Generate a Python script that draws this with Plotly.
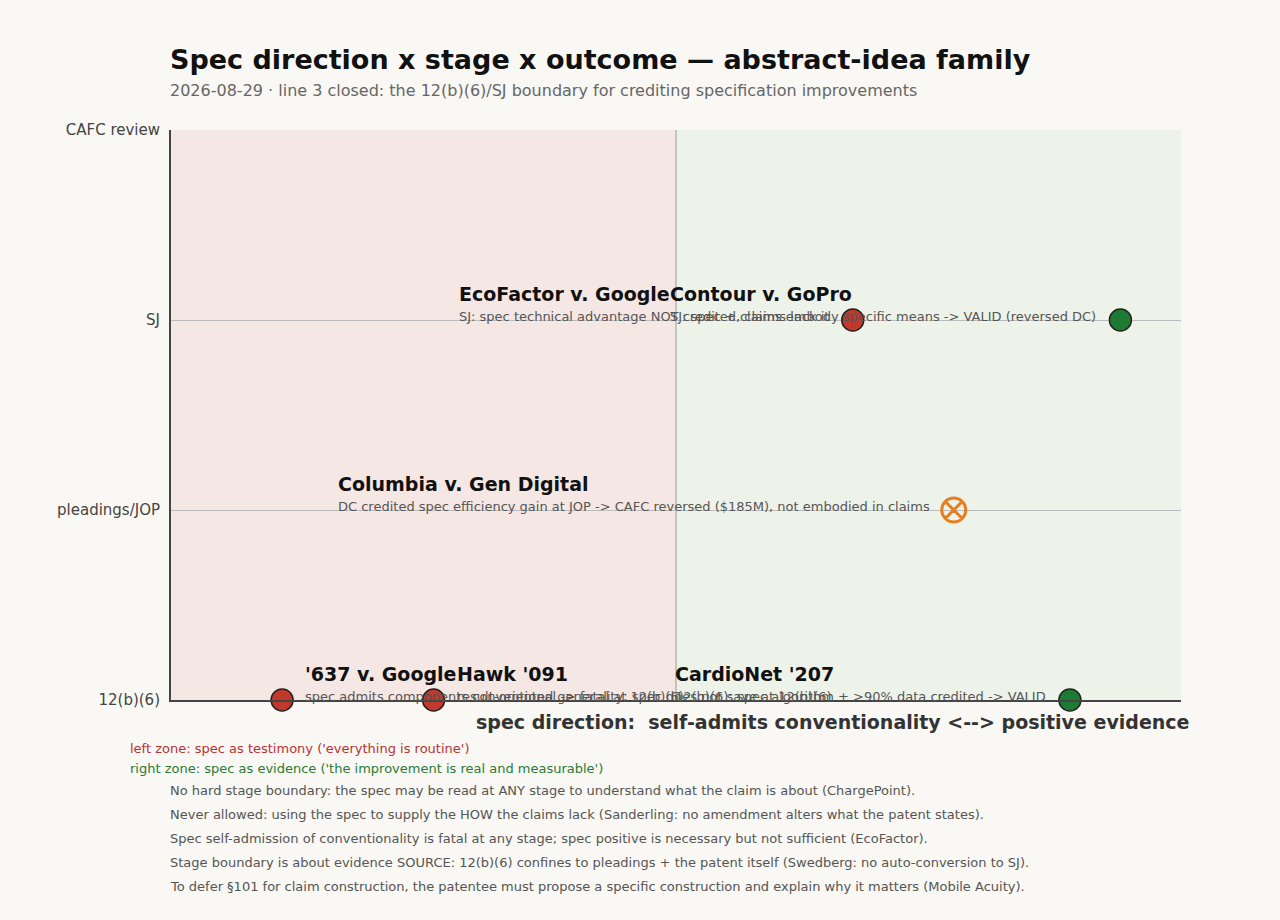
import plotly.graph_objects as go

# ---- data ----
stage_labels = ["12(b)(6)", "pleadings/JOP", "SJ", "CAFC review"]
stage_vals = [0, 1, 2, 3]

case_names = ["'637 v. Google", "Hawk '091", "CardioNet '207",
              "Columbia v. Gen Digital", "EcoFactor v. Google", "Contour v. GoPro"]
case_notes = [
    "spec admits components conventional -> fatal at 12(b)(6)",
    "result-oriented generality; spec does not save at 12(b)(6)",
    "12(b)(6): spec algorithm + >90% data credited -> VALID",
    "DC credited spec efficiency gain at JOP -> CAFC reversed ($185M), not embodied in claims",
    "SJ: spec technical advantage NOT credited, claims lack it",
    "SJ: spec + claims embody specific means -> VALID (reversed DC)",
]
direction = [-0.78, -0.48, 0.78, 0.55, 0.35, 0.88]
stage = [0, 0, 0, 1, 2, 2]
outcome = ["invalid", "invalid", "valid", "reversed", "invalid", "valid"]

zone_notes = [
    "left zone: spec as testimony ('everything is routine')",
    "right zone: spec as evidence ('the improvement is real and measurable')",
]
notes = [
    "No hard stage boundary: the spec may be read at ANY stage to understand what the claim is about (ChargePoint).",
    "Never allowed: using the spec to supply the HOW the claims lack (Sanderling: no amendment alters what the patent states).",
    "Spec self-admission of conventionality is fatal at any stage; spec positive is necessary but not sufficient (EcoFactor).",
    "Stage boundary is about evidence SOURCE: 12(b)(6) confines to pleadings + the patent itself (Swedberg: no auto-conversion to SJ).",
    "To defer \u00a7101 for claim construction, the patentee must propose a specific construction and explain why it matters (Mobile Acuity).",
]

FONT = "DejaVu Sans"
RED = "#c0392b"
GREEN = "#1e7b34"
ORANGE = "#e67e22"

fig = go.Figure()

style = {
    "invalid": dict(symbol="circle", color=RED, size=22, line=dict(color="#222", width=1.5)),
    "valid": dict(symbol="circle", color=GREEN, size=22, line=dict(color="#222", width=1.5)),
    "reversed": dict(symbol="circle-x-open", color=ORANGE, size=24, line=dict(color=ORANGE, width=3)),
}
for kind in ["invalid", "valid", "reversed"]:
    xs = [d for d, o in zip(direction, outcome) if o == kind]
    ys = [s for s, o in zip(stage, outcome) if o == kind]
    fig.add_trace(go.Scatter(x=xs, y=ys, mode="markers", marker=style[kind],
                             cliponaxis=False, showlegend=False, hoverinfo="skip"))

# zones
fig.add_shape(type="rect", xref="x", yref="y", x0=-1, x1=0, y0=0, y1=3,
              fillcolor="#f5e7e4", line=dict(width=0), layer="below")
fig.add_shape(type="rect", xref="x", yref="y", x0=0, x1=1, y0=0, y1=3,
              fillcolor="#eef3ea", line=dict(width=0), layer="below")
fig.add_shape(type="line", xref="x", yref="y", x0=0, x1=0, y0=0, y1=3,
              line=dict(color="#999", width=1), layer="below")

# case labels
for name, note, d, s in zip(case_names, case_notes, direction, stage):
    left = d < 0
    fig.add_annotation(
        x=d, y=s, xref="x", yref="y",
        text=(f"<span style='font-size:19px'><b>{name}</b></span><br>"
              f"<span style='font-size:13px;color:#555'>{note}</span>"),
        showarrow=False, align="left",
        xanchor="left" if left else "right",
        xshift=21 if left else -22,
        yanchor="bottom", yshift=-6,
        font=dict(family=FONT, size=15, color="#111"),
    )

# title & subtitle
fig.add_annotation(x=(168 - 171) / 1010, y=(700 - 59) / 570, xref="paper", yref="paper",
                   text="<b>Spec direction x stage x outcome \u2014 abstract-idea family</b>",
                   showarrow=False, xanchor="left", yanchor="middle",
                   font=dict(family=FONT, size=27, color="#111"))
fig.add_annotation(x=(168 - 171) / 1010, y=(700 - 90) / 570, xref="paper", yref="paper",
                   text="2026-08-29 \u00b7 line 3 closed: the 12(b)(6)/SJ boundary for crediting specification improvements",
                   showarrow=False, xanchor="left", yanchor="middle",
                   font=dict(family=FONT, size=16, color="#666"))

# x axis title
fig.add_annotation(x=1 + 10 / 1010, y=(700 - 722) / 570, xref="paper", yref="paper",
                   text="<b>spec direction:  self-admits conventionality &lt;--&gt; positive evidence</b>",
                   showarrow=False, xanchor="right", yanchor="middle",
                   font=dict(family=FONT, size=19, color="#333"))

# zone notes
for i, (t, c) in enumerate(zip(zone_notes, ["#b83232", "#2a7a35"])):
    fig.add_annotation(x=(128 - 171) / 1010, y=(700 - (748 + 20 * i)) / 570,
                       xref="paper", yref="paper", text=t, showarrow=False,
                       xanchor="left", yanchor="middle",
                       font=dict(family=FONT, size=13, color=c))
for i, t in enumerate(notes):
    fig.add_annotation(x=(168 - 171) / 1010, y=(700 - (790 + 24 * i)) / 570,
                       xref="paper", yref="paper", text=t, showarrow=False,
                       xanchor="left", yanchor="middle",
                       font=dict(family=FONT, size=13, color="#555"))

fig.update_layout(
    width=1280, height=920,
    margin=dict(l=171, r=99, t=130, b=220),
    paper_bgcolor="#f9f8f4", plot_bgcolor="#f9f8f4",
    font=dict(family=FONT, color="#444"),
    showlegend=False,
)
fig.update_xaxes(range=[-1, 1], showgrid=False, zeroline=False, showticklabels=False,
                 ticks="", showline=True, linecolor="#444", linewidth=2)
fig.update_yaxes(range=[0, 3], tickvals=stage_vals, ticktext=stage_labels,
                 showgrid=True, gridcolor="#bbb", gridwidth=1, zeroline=False,
                 showline=True, linecolor="#444", linewidth=2,
                 ticks="outside", ticklen=6, tickcolor="rgba(0,0,0,0)",
                 tickfont=dict(family=FONT, size=15, color="#444"))

fig.write_html("out.html", config={"displayModeBar": False},
               post_script="document.body.style.margin='0';document.body.style.overflow='hidden';")
